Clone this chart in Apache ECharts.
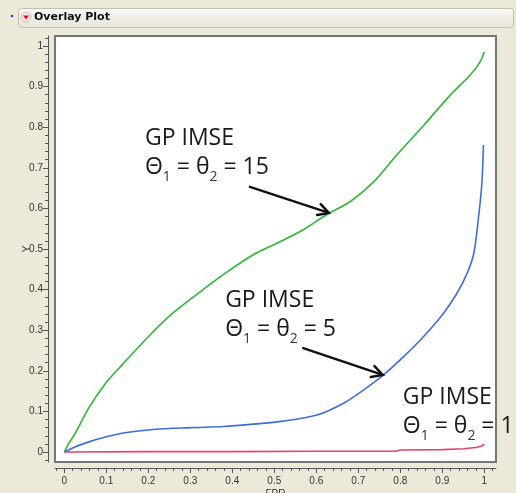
<!DOCTYPE html>
<html>
<head>
<meta charset="utf-8">
<script src="https://cdn.jsdelivr.net/npm/echarts@6/dist/echarts.min.js"></script>
<style>
html,body{margin:0;padding:0;background:#ECE9D8;}
#c{width:516px;height:493px;}
</style>
</head>
<body>
<div id="c"></div>
<script>
// ---- data ----
const xTicks = [0,0.1,0.2,0.3,0.4,0.5,0.6,0.7,0.8,0.9,1];
const yTicks = [0,0.1,0.2,0.3,0.4,0.5,0.6,0.7,0.8,0.9,1];
const xTickLabels = ['0','0.1','0.2','0.3','0.4','0.5','0.6','0.7','0.8','0.9','1'];
const yTickLabels = ['0','0.1','0.2','0.3','0.4','0.5','0.6','0.7','0.8','0.9','1'];

const greenX = [0,0.01,0.026,0.058,0.098,0.137,0.2,0.256,0.328,0.391,0.455,0.514,0.57,0.625,0.681,0.737,0.792,0.856,0.919,0.967,0.99,1.0];
const greenY = [0,0.02,0.046,0.108,0.169,0.214,0.284,0.34,0.398,0.446,0.489,0.518,0.548,0.585,0.617,0.666,0.732,0.805,0.879,0.929,0.961,0.985];

const blueX = [0,0.02,0.058,0.137,0.217,0.3,0.38,0.443,0.522,0.602,0.665,0.713,0.76,0.808,0.855,0.903,0.935,0.959,0.975,0.986,0.994,0.998];
const blueY = [0,0.01,0.025,0.046,0.056,0.06,0.063,0.068,0.076,0.091,0.12,0.153,0.19,0.235,0.284,0.342,0.391,0.44,0.489,0.576,0.658,0.756];

const redX = [0,0.2,0.4,0.6,0.79,0.8,0.9,0.95,0.98,0.995,1.0];
const redY = [0,0.001,0.001,0.002,0.002,0.005,0.006,0.008,0.011,0.015,0.02];

const annTitles = ['GP IMSE','GP IMSE','GP IMSE'];
const annThetas = ['15','5','1'];

// ---- layout (not data) ----
const X_MIN = -0.0221, X_MAX = 1.0279, Y_MIN = -0.0246, Y_MAX = 1.0246;
const annPos = [[0.192,0.754],[0.383,0.357],[0.806,0.116]];
const arrowFrom = [[0.442,0.653],[0.569,0.256]];
const arrowTo = [[0.630,0.589],[0.758,0.190]];

function zip(a,b){ return a.map((v,i)=>[v,b[i]]); }
function minorVals(){ const r=[]; for(let i=-1;i<=51;i++){ if(i%5!==0) r.push(+(i*0.02).toFixed(2)); } return r; }
const minors = minorVals();
const FONT = '"Liberation Sans", Arial, sans-serif';
const axisCol = '#555';
const gridBox = {left:55,right:20,top:36,bottom:31,outerBoundsMode:'none'};

const chart = echarts.init(document.getElementById('c'), null, {renderer:'canvas'});
const option = {
  backgroundColor:'#ECE9D8',
  animation:false,
  grid:[
    Object.assign({show:true,backgroundColor:'#ffffff',borderColor:'#767676',borderWidth:2}, gridBox),
    Object.assign({show:false}, gridBox)
  ],
  xAxis:[
    {type:'value',gridIndex:0,min:X_MIN,max:X_MAX,position:'bottom',offset:6,
     axisLine:{show:true,onZero:false,lineStyle:{color:axisCol}},
     axisTick:{show:true,length:5,customValues:xTicks,lineStyle:{color:axisCol}},
     axisLabel:{customValues:xTicks,margin:8,fontSize:10,color:'#333',fontFamily:FONT,
       formatter:(v)=>xTickLabels[xTicks.findIndex(t=>Math.abs(t-v)<1e-6)]},
     splitLine:{show:false},
     name:'FPR',nameLocation:'middle',nameGap:21,nameMoveOverlap:false,
     nameTextStyle:{fontSize:10,color:'#333',fontFamily:FONT}},
    {type:'value',gridIndex:1,min:X_MIN,max:X_MAX,position:'bottom',offset:6,
     axisLine:{show:false,onZero:false},axisTick:{show:true,length:3,customValues:minors,lineStyle:{color:axisCol}},
     axisLabel:{show:false},splitLine:{show:false}}
  ],
  yAxis:[
    {type:'value',gridIndex:0,min:Y_MIN,max:Y_MAX,position:'left',offset:7,
     axisLine:{show:true,onZero:false,lineStyle:{color:axisCol}},
     axisTick:{show:true,length:5,customValues:yTicks,lineStyle:{color:axisCol}},
     axisLabel:{customValues:yTicks,margin:5,fontSize:10,color:'#333',fontFamily:FONT,
       formatter:(v)=>yTickLabels[yTicks.findIndex(t=>Math.abs(t-v)<1e-6)]},
     splitLine:{show:false},
     name:'Y',nameLocation:'middle',nameGap:16,nameMoveOverlap:false,
     nameTextStyle:{fontSize:10,color:'#333',fontFamily:FONT}},
    {type:'value',gridIndex:1,min:Y_MIN,max:Y_MAX,position:'left',offset:7,
     axisLine:{show:false,onZero:false},axisTick:{show:true,length:3,customValues:minors,lineStyle:{color:axisCol}},
     axisLabel:{show:false},splitLine:{show:false}}
  ],
  series:[
    {type:'line',name:'red',xAxisIndex:0,yAxisIndex:0,data:zip(redX,redY),showSymbol:false,lineStyle:{color:'#E8406E',width:1.6}},
    {type:'line',name:'blue',xAxisIndex:0,yAxisIndex:0,data:zip(blueX,blueY),showSymbol:false,smooth:0.3,lineStyle:{color:'#3D6FDC',width:1.6}},
    {type:'line',name:'green',xAxisIndex:0,yAxisIndex:0,data:zip(greenX,greenY),showSymbol:false,smooth:0.3,lineStyle:{color:'#30B535',width:1.6}}
  ]
};
chart.setOption(option);

function px(p){ return chart.convertToPixel({xAxisIndex:0,yAxisIndex:0},p); }
const ANN_FONT = '"Open Sans", "Noto Sans", sans-serif';
const FS = 23;
const g = [];
// header bar
g.push({type:'rect',shape:{x:18.5,y:8.5,width:495,height:19,r:3},
  style:{fill:new echarts.graphic.LinearGradient(0,0,0,1,[{offset:0,color:'#FAF9F5'},{offset:1,color:'#E6E3D6'}]),stroke:'#C4C0AE',lineWidth:1},z:10});
g.push({type:'circle',shape:{cx:26,cy:17,r:5},style:{fill:'#FBE9E9',stroke:'#D9A0A0',lineWidth:0.8},z:11});
g.push({type:'polygon',shape:{points:[[23,15.5],[29,15.5],[26,19.5]]},style:{fill:'#D01818'},z:12});
g.push({type:'circle',shape:{cx:12,cy:16,r:1.3},style:{fill:'#2040C0'},z:11});
g.push({type:'text',x:34,y:17.5,style:{text:'Overlay Plot',font:'bold 11px "DejaVu Sans", sans-serif',fill:'#111',verticalAlign:'middle'},z:12});

for(let i=0;i<annTitles.length;i++){
  const p = px(annPos[i]);
  g.push({type:'text',x:p[0],y:p[1]-21.5,style:{text:annTitles[i],fontFamily:ANN_FONT,fontSize:FS,lineHeight:29,fill:'#1a1a1a',verticalAlign:'top',align:'left'},z:20});
  const p2 = [p[0], p[1]+31];
  g.push({type:'text',x:p2[0],y:p2[1]-23.5,style:{
    text:'{m|Θ}{s|1}{m| = θ}{s|2}{m| = '+annThetas[i]+'}',
    verticalAlign:'top',align:'left',
    rich:{m:{fontFamily:ANN_FONT,fontSize:FS,lineHeight:29,fill:'#1a1a1a'},
          s:{fontFamily:ANN_FONT,fontSize:14,lineHeight:14,padding:[19,0,0,0],fill:'#2a3550'}}},z:20});
}
for(let i=0;i<arrowFrom.length;i++){
  const a = px(arrowFrom[i]), b = px(arrowTo[i]);
  const ang = Math.atan2(b[1]-a[1], b[0]-a[0]);
  const L = 12, sp = 0.5;
  const h1 = [b[0]-L*Math.cos(ang-sp), b[1]-L*Math.sin(ang-sp)];
  const h2 = [b[0]-L*Math.cos(ang+sp), b[1]-L*Math.sin(ang+sp)];
  g.push({type:'line',shape:{x1:a[0],y1:a[1],x2:b[0],y2:b[1]},style:{stroke:'#111',lineWidth:2.5,lineCap:'round'},z:20});
  g.push({type:'polyline',shape:{points:[h1,b,h2]},style:{stroke:'#111',lineWidth:2.5,fill:null,lineCap:'round',lineJoin:'miter'},z:20});
}
chart.setOption({graphic:g});
</script>
</body>
</html>
